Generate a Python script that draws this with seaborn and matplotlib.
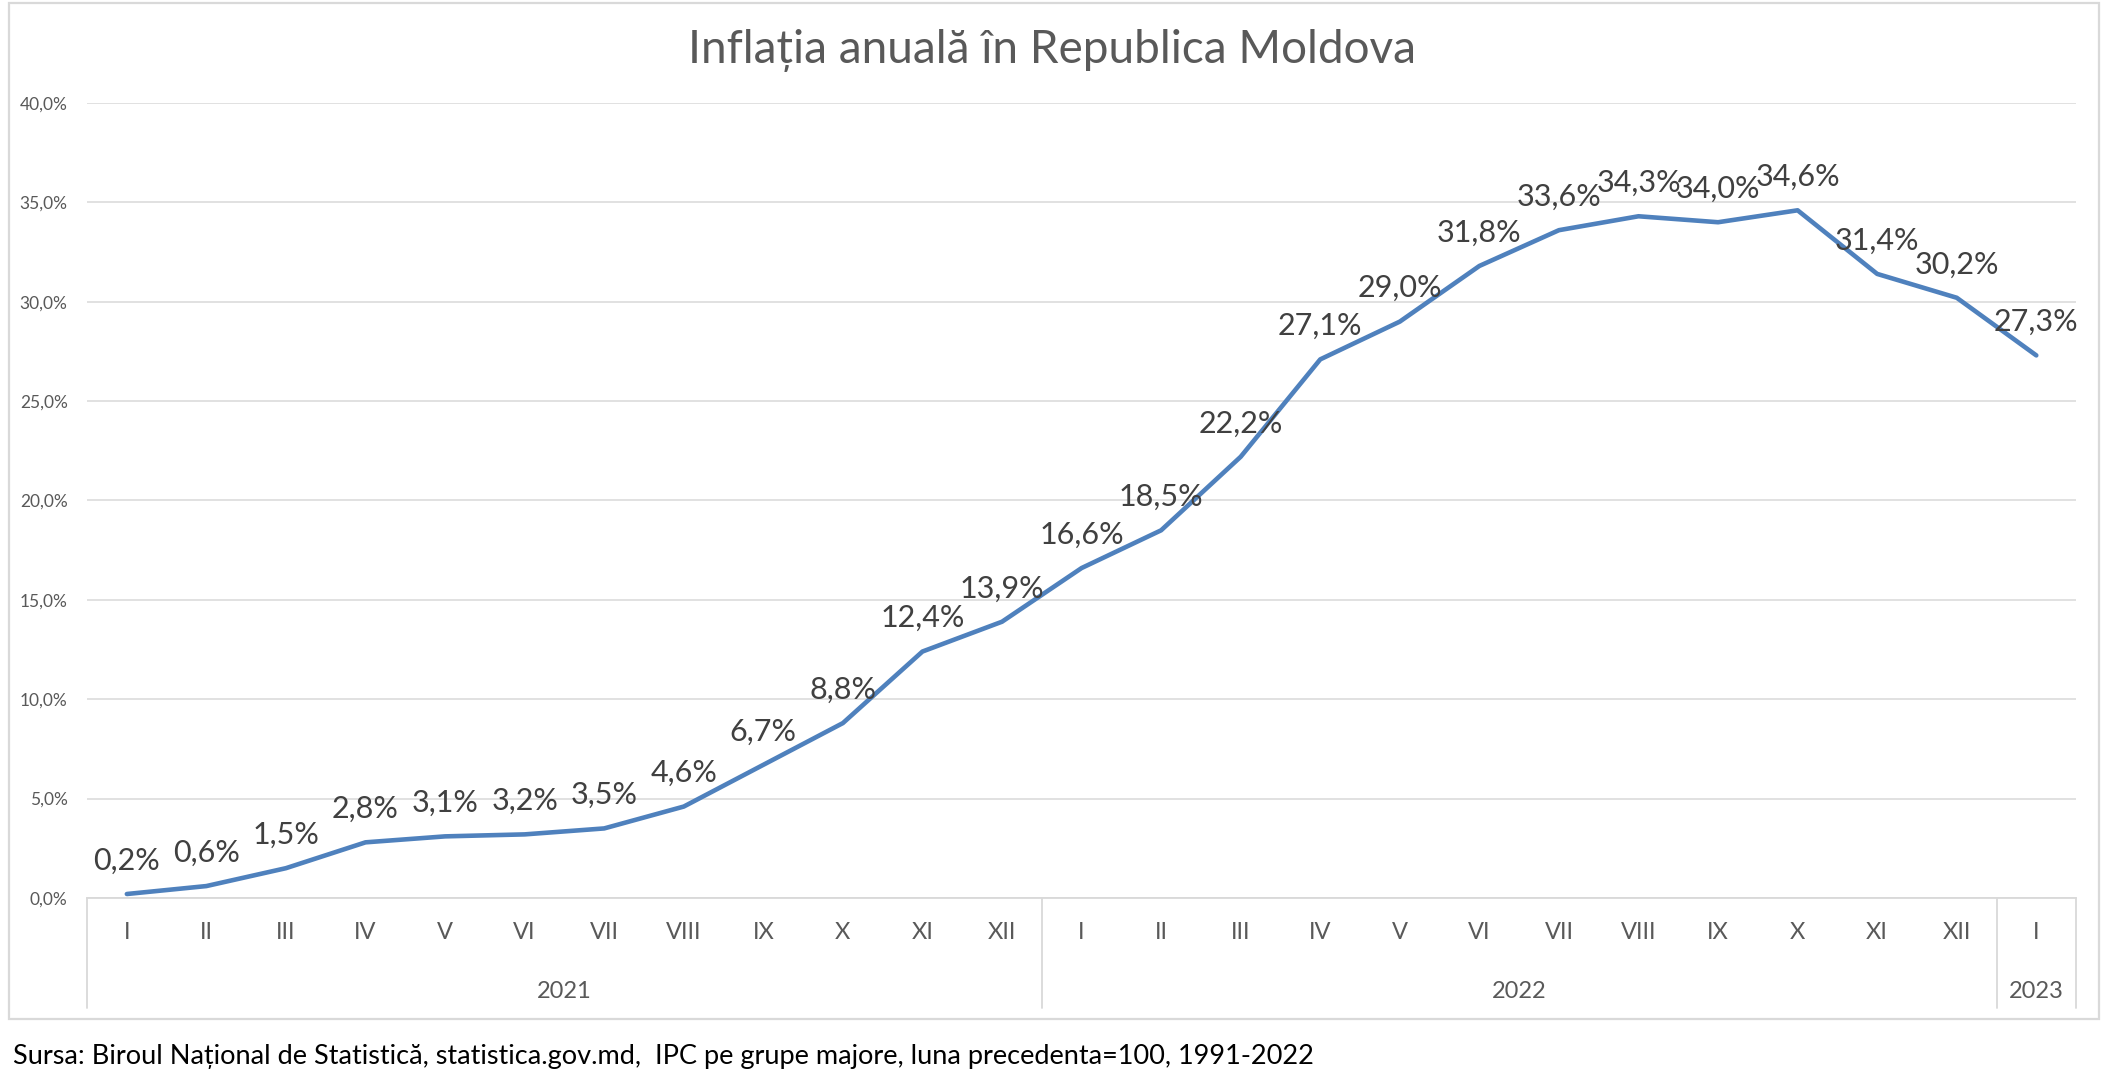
import matplotlib
matplotlib.use('Agg')

import pandas as pd
import seaborn as sns
import matplotlib.pyplot as plt
from matplotlib.patches import Rectangle

# data
months = ["I", "II", "III", "IV", "V", "VI", "VII", "VIII", "IX", "X", "XI", "XII",
          "I", "II", "III", "IV", "V", "VI", "VII", "VIII", "IX", "X", "XI", "XII",
          "I"]
years = ["2021"] * 12 + ["2022"] * 12 + ["2023"]
inflation = [0.2, 0.6, 1.5, 2.8, 3.1, 3.2, 3.5, 4.6, 6.7, 8.8, 12.4, 13.9,
             16.6, 18.5, 22.2, 27.1, 29.0, 31.8, 33.6, 34.3, 34.0, 34.6, 31.4, 30.2,
             27.3]
yticks = [0, 5, 10, 15, 20, 25, 30, 35, 40]

df = pd.DataFrame({"idx": range(len(months)), "month": months,
                   "year": years, "value": inflation})

sns.set_theme(style="white")
plt.rcParams['font.family'] = ['Lato', 'DejaVu Sans']

fig = plt.figure(figsize=(21.03, 10.84), dpi=100)
ax = fig.add_axes([0.0414, 0.1716, 0.9458, 0.7334])

sns.lineplot(data=df, x="idx", y="value", ax=ax, color="#4F81BD",
             linewidth=3.3, clip_on=False)

# data labels above points
for i, v in zip(df["idx"], df["value"]):
    ax.annotate(f"{v:.1f}%".replace(".", ","), (i, v), xytext=(0, 24),
                textcoords="offset points", ha="center", va="center",
                fontsize=22, color="#404040")

ax.set_xlim(-0.5, len(months) - 0.5)
ax.set_ylim(0, 40)
ax.set_yticks(yticks)
ax.set_yticklabels([f"{t:.1f}%".replace(".", ",") for t in yticks])
ax.tick_params(axis="y", length=0, pad=14, labelsize=12.5, labelcolor="#595959")
ax.set_xticks([])
ax.set_xlabel("")
ax.set_ylabel("")
ax.grid(axis="y", color="#D9D9D9", linewidth=1.1)
ax.set_axisbelow(True)
for s in ["top", "right", "left"]:
    ax.spines[s].set_visible(False)
ax.spines["bottom"].set_color("#D9D9D9")
ax.spines["bottom"].set_linewidth(1.3)

# multi-level category axis
trans = ax.get_xaxis_transform()
for i, m in enumerate(months):
    ax.text(i, -0.043, m, transform=trans, ha="center", va="center",
            fontsize=17, color="#595959")
groups = df.groupby("year")["idx"].agg(["min", "max"])
for yr, row in groups.iterrows():
    ax.text((row["min"] + row["max"]) / 2, -0.118, yr, transform=trans,
            ha="center", va="center", fontsize=17, color="#595959")
bounds = [-0.5] + [row["max"] + 0.5 for _, row in groups.iterrows()]
for b in bounds:
    ax.plot([b, b], [0, -0.138], transform=trans, color="#D9D9D9",
            linewidth=1.3, clip_on=False)

fig.text(0.5, 0.953, "Inflația anuală în Republica Moldova", ha="center",
         va="center", fontsize=33, color="#595959")
fig.text(0.0062, 0.025,
         "Sursa: Biroul Național de Statistică, statistica.gov.md,  IPC pe grupe majore, luna precedenta=100, 1991-2022",
         ha="left", va="center", fontsize=19.5, color="black")

# chart border
fig.patches.append(Rectangle((9 / 2103, 1 - 1019 / 1084), 2090 / 2103, 1016 / 1084,
                             transform=fig.transFigure, fill=False,
                             edgecolor="#D9D9D9", linewidth=1.6))

fig.savefig("out.png", dpi=100)
